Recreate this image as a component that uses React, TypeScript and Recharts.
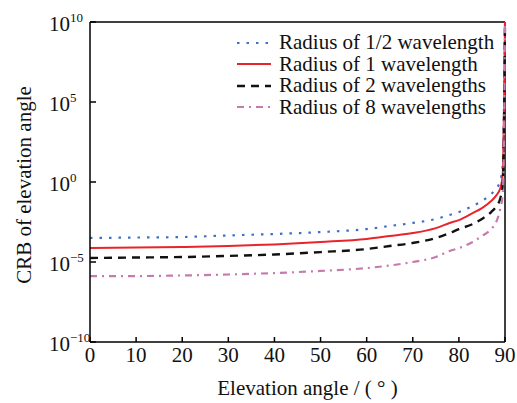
import React from 'react';
import { LineChart, Line, XAxis, YAxis, ReferenceLine, Legend } from 'recharts';

// elevation angle (deg) and log10(CRB)
const angles = [0, 10, 20, 30, 40, 50, 60, 65, 70, 75, 78, 80, 83, 85, 87, 88, 89, 89.5, 89.8, 90];
const halfLog = [-3.5, -3.47, -3.44, -3.34, -3.25, -3.13, -2.94, -2.75, -2.56, -2.31, -2.06, -1.88, -1.5, -1.19, -0.75, -0.44, 0.12, 1.06, 5, 10];
const oneLog = [-4.12, -4.09, -4.06, -4.0, -3.9, -3.75, -3.56, -3.38, -3.19, -2.88, -2.56, -2.38, -1.94, -1.63, -1.19, -0.88, -0.38, 0.44, 5, 10];
const twoLog = [-4.75, -4.72, -4.69, -4.62, -4.53, -4.38, -4.19, -4.0, -3.81, -3.5, -3.19, -2.94, -2.63, -2.31, -1.88, -1.56, -1.0, -0.19, 3.9, 10];
const eightLog = [-5.88, -5.88, -5.84, -5.78, -5.69, -5.56, -5.38, -5.22, -5.0, -4.69, -4.31, -4.13, -3.75, -3.38, -2.94, -2.56, -1.63, -0.8, 3.25, 10];

const seriesKeys = ['half', 'one', 'two', 'eight'];
const seriesNames = ['Radius of 1/2 wavelength', 'Radius of 1 wavelength', 'Radius of 2 wavelengths', 'Radius of 8 wavelengths'];
const xTicks = [0, 10, 20, 30, 40, 50, 60, 70, 80, 90];
const yTickExps = [-10, -5, 0, 5, 10];

const colors = ['#3f6fc6', '#e8252c', '#111111', '#c77aae'];
const dashes = ['2.5 7', undefined, '8 6', '7 5 2 5'];
const widths = [2.2, 2, 2.4, 2.2];

const FONT = 'Liberation Serif, DejaVu Serif, serif';

const data = angles.map((a, i) => ({
  angle: a,
  half: 10 ** halfLog[i],
  one: 10 ** oneLog[i],
  two: 10 ** twoLog[i],
  eight: 10 ** eightLog[i],
}));

const XTick = (props: any) => {
  const { x, y, payload } = props;
  return (
    <g>
      <line x1={x} x2={x} y1={y} y2={y - 5} stroke="#000" strokeWidth={1.5} />
      <text x={x} y={y + 20} textAnchor="middle" style={{ fontFamily: FONT }} fontSize={21} fill="#111">
        {payload.value}
      </text>
    </g>
  );
};

const YTick = (props: any) => {
  const { x, y, payload } = props;
  const exp = Math.round(Math.log10(payload.value));
  const expText = exp < 0 ? '\u2212' + Math.abs(exp) : String(exp);
  return (
    <g>
      <line x1={x} x2={x + 6} y1={y} y2={y} stroke="#000" strokeWidth={1.5} />
      <text x={x - 41} y={y + 9} style={{ fontFamily: FONT }} fontSize={21} fill="#111">
        10
        <tspan fontSize={13} dy={-9}>{expText}</tspan>
      </text>
    </g>
  );
};

const LegendBox = () => (
  <div style={{ fontFamily: FONT, fontSize: 21, color: '#111', lineHeight: '21.5px' }}>
    {seriesNames.map((name, i) => (
      <div key={name} style={{ display: 'flex', alignItems: 'center', whiteSpace: 'nowrap' }}>
        <svg width={36} height={6} style={{ marginRight: 7 }}>
          <line x1={1} x2={35} y1={3} y2={3} stroke={colors[i]} strokeWidth={widths[i]} strokeDasharray={dashes[i]} />
        </svg>
        <span>{name}</span>
      </div>
    ))}
  </div>
);

const YLabel = () => (
  <text transform="translate(24,185) rotate(-90)" textAnchor="middle" dominantBaseline="central" style={{ fontFamily: FONT }} fontSize={21} fill="#111">
    CRB of elevation angle
  </text>
);

export default function App() {
  return (
    <div style={{ position: 'absolute', left: 0, top: 0, width: 517, height: 403, background: '#fff', fontFamily: FONT }}>
      <LineChart width={517} height={403} data={data} margin={{ top: 22, right: 12, bottom: 0, left: 0 }} style={{ fontFamily: FONT }}>
        <XAxis
          dataKey="angle"
          type="number"
          domain={[0, 90]}
          ticks={xTicks}
          interval={0}
          height={61}
          tickLine={false}
          tickSize={0}
          tickMargin={0}
          tick={<XTick />}
          axisLine={{ stroke: '#000', strokeWidth: 1.5 }}
          label={{ value: 'Elevation angle / ( \u00b0 )', position: 'insideBottom', offset: 8, dx: 10, style: { fontFamily: FONT }, fontSize: 21, fill: '#111' }}
        />
        <YAxis
          scale="log"
          domain={[1e-10, 1e10]}
          allowDataOverflow
          ticks={yTickExps.map((e) => 10 ** e)}
          interval={0}
          width={90}
          tickLine={false}
          tickSize={0}
          tickMargin={0}
          tick={<YTick />}
          axisLine={{ stroke: '#000', strokeWidth: 1.5 }}
          label={<YLabel />}
        />
        <ReferenceLine y={1e10} stroke="#000" strokeWidth={1.5} />
        <ReferenceLine x={90} stroke="#000" strokeWidth={1.5} />
        {seriesKeys.map((k, i) => (
          <Line
            key={k}
            dataKey={k}
            name={seriesNames[i]}
            type="monotone"
            stroke={colors[i]}
            strokeWidth={widths[i]}
            strokeDasharray={dashes[i]}
            dot={false}
            isAnimationActive={false}
          />
        ))}
        <Legend
          layout="horizontal"
          verticalAlign="middle"
          align="center"
          content={<LegendBox />}
          wrapperStyle={{ top: 32, left: 236, width: 275 }}
        />
      </LineChart>
    </div>
  );
}
